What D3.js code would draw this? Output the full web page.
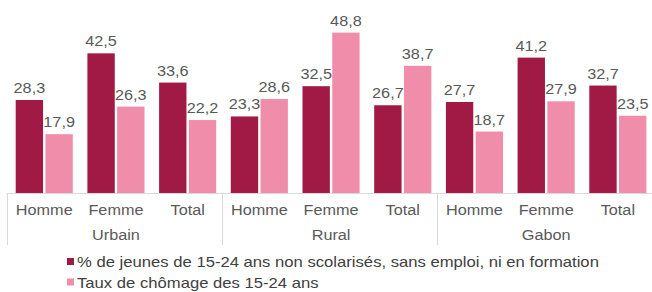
<!DOCTYPE html>
<html><head><meta charset="utf-8">
<script src="https://cdn.jsdelivr.net/npm/d3@7"></script>
<style>body{margin:0;background:#fff}svg{display:block}text{font-family:"Liberation Sans",Arial,sans-serif}</style>
</head><body><svg id="c" width="652" height="292"></svg>
<script>
const groups = ["Urbain","Rural","Gabon"];
const subcats = ["Homme","Femme","Total"];
const seriesNames = ["% de jeunes de 15-24 ans non scolarisés, sans emploi, ni en formation","Taux de chômage des 15-24 ans"];
const neet = [28.3,42.5,33.6,23.3,32.5,26.7,27.7,41.2,32.7];
const chomage = [17.9,26.3,22.2,28.6,48.8,38.7,18.7,27.9,23.5];
const colors = ["#A11A45","#F08DAA"];

const svg = d3.select("#c");
const x0 = 8.4, x1 = 653.7, base = 193;
const cats = d3.range(9);
const x = d3.scaleBand().domain(cats).range([x0,x1]).paddingInner(0).paddingOuter(0);
const xs = d3.scaleBand().domain([0,1]).range([7.3, x.bandwidth()-7.3]).paddingInner(0.08);
const y = d3.scaleLinear().domain([0,55]).range([base, base-55*3.286]);
const fmt = v => v.toFixed(1).replace(".", ",");
const K = 1.16;
const tr = (xx,yy,k) => `translate(${xx},${yy}) scale(${k||K},1)`;

// baseline
svg.append("line").attr("x1",x0-2).attr("x2",652).attr("y1",base+0.5).attr("y2",base+0.5).attr("stroke","#d9d9d9");
// separators
[0,3,6,9].forEach(i=>{
  const xx = Math.round(x0 + i*x.bandwidth() - 1.5)+0.5;
  svg.append("line").attr("x1",xx).attr("x2",xx).attr("y1",base).attr("y2",245).attr("stroke","#d9d9d9");
});

[neet,chomage].forEach((vals,s)=>{
  const g = svg.append("g");
  g.selectAll("rect").data(vals).join("rect")
    .attr("x",(d,i)=>x(i)+xs(s)).attr("width",xs.bandwidth())
    .attr("y",d=>y(d)).attr("height",d=>base-y(d)).attr("fill",colors[s]);
  g.selectAll("text").data(vals).join("text")
    .attr("transform",(d,i)=>tr(x(i)+xs(s)+xs.bandwidth()/2, y(d)-7))
    .attr("text-anchor","middle").attr("font-size",14).attr("fill","#595959").text(fmt);
});

svg.selectAll("text.cat").data(cats).join("text").attr("class","cat")
  .attr("transform",i=>tr(x(i)+x.bandwidth()/2, 214.5)).attr("text-anchor","middle")
  .attr("font-size",14).attr("fill","#595959").text(i=>subcats[i%3]);
svg.selectAll("text.grp").data(groups).join("text").attr("class","grp")
  .attr("transform",(d,i)=>tr(x0 + (i*3+1.5)*x.bandwidth(), 239.5)).attr("text-anchor","middle")
  .attr("font-size",14).attr("fill","#595959").text(d=>d);

// legend
const leg = svg.append("g");
seriesNames.forEach((n,i)=>{
  const yy = 262 + i*20.5;
  leg.append("rect").attr("x",67).attr("y",yy-4).attr("width",7).attr("height",7).attr("fill",colors[i]);
  leg.append("text").attr("transform",tr(77,yy+5,1.19)).attr("font-size",14).attr("fill","#404040").text(n);
});
</script></body></html>
